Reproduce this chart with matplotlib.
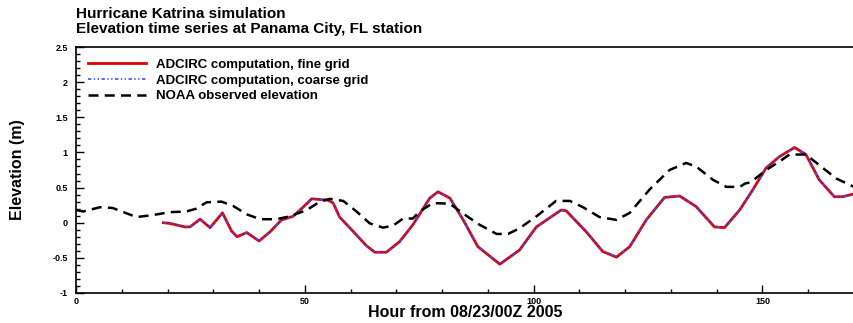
import matplotlib
matplotlib.use("Agg")
import matplotlib.pyplot as plt
from matplotlib.ticker import MultipleLocator

plt.rcParams['font.family'] = ['Liberation Sans', 'DejaVu Sans']
plt.rcParams['font.weight'] = 'bold'

obs_hours = [0, 1.6, 5.2, 8, 13.2, 16.9, 20.5, 24.1, 26.3, 28.5, 31.8, 34.3, 37.3, 40.2,
             43.8, 46.7, 50.4, 53.3, 55.5, 58.4, 61.3, 64.2, 67.1, 69.3, 71.5, 73.6, 75.1,
             78, 81.7, 84.6, 88.2, 91.9, 94.4, 96.9, 100.6, 104.9, 107.9, 110.8, 114.4,
             118.1, 121, 125.3, 129.7, 133.3, 135.5, 139.2, 142.1, 145, 146.3, 147.2,
             148.3, 150.8, 153.7, 155.9, 159.5, 162.4, 166.1, 170]
obs_elev = [0.18, 0.16, 0.22, 0.21, 0.08, 0.11, 0.15, 0.16, 0.2, 0.29, 0.30, 0.24, 0.12, 0.05,
            0.05, 0.09, 0.18, 0.30, 0.34, 0.31, 0.16, -0.01, -0.07, -0.04, 0.06, 0.06, 0.16,
            0.28, 0.27, 0.13, -0.03, -0.16, -0.16, -0.08, 0.09, 0.31, 0.31, 0.22, 0.08,
            0.04, 0.14, 0.47, 0.75, 0.85, 0.80, 0.61, 0.51, 0.51, 0.56, 0.57, 0.62,
            0.75, 0.87, 0.97, 0.97, 0.82, 0.63, 0.51]

fine_hours = [19.1, 20.5, 23.8, 24.9, 27.1, 29.3, 32, 34, 35.2, 37.3, 40, 42.4, 44.9, 47.4,
              49.6, 51.5, 55.1, 56.2, 57.6, 60.5, 63.5, 65.3, 67.8, 70.7, 73.6, 77.3, 79.1,
              81.7, 84.6, 87.8, 92.6, 96.9, 100.6, 106, 107.1, 111.5, 115.1, 118.1, 121,
              124.6, 128.6, 131.9, 135.5, 139.5, 141.7, 145, 147.9, 150.8, 153.7, 157,
              159.5, 162.4, 165.7, 167.5, 170]
fine_elev = [0.0, -0.01, -0.06, -0.06, 0.05, -0.07, 0.14, -0.12, -0.20, -0.14, -0.26, -0.13,
             0.04, 0.09, 0.22, 0.34, 0.32, 0.28, 0.08, -0.12, -0.33, -0.42, -0.42, -0.27,
             -0.03, 0.35, 0.44, 0.35, 0.04, -0.34, -0.59, -0.39, -0.06, 0.18, 0.17, -0.13,
             -0.41, -0.49, -0.34, 0.04, 0.36, 0.38, 0.23, -0.06, -0.07, 0.18, 0.47, 0.78,
             0.94, 1.07, 0.97, 0.61, 0.37, 0.37, 0.41]

coarse_hours = fine_hours
coarse_elev = [0.0, -0.01, -0.06, -0.06, 0.05, -0.07, 0.14, -0.12, -0.20, -0.14, -0.26, -0.13,
               0.04, 0.09, 0.22, 0.34, 0.32, 0.28, 0.08, -0.12, -0.33, -0.42, -0.42, -0.27,
               -0.03, 0.35, 0.44, 0.35, 0.04, -0.34, -0.58, -0.39, -0.06, 0.18, 0.17, -0.13,
               -0.41, -0.48, -0.34, 0.04, 0.36, 0.38, 0.23, -0.06, -0.07, 0.18, 0.47, 0.78,
               0.94, 1.06, 0.97, 0.61, 0.37, 0.37, 0.41]

W, H = 854, 323
fig = plt.figure(figsize=(W / 100, H / 100), dpi=100)
ax = fig.add_axes([76 / W, 1 - 293 / H, (W - 76) / W, (293 - 47) / H])

ax.plot(fine_hours, fine_elev, color='#e00000', lw=2.0, label='ADCIRC computation, fine grid')
ax.plot(coarse_hours, coarse_elev, color='#3a4cff', lw=1.2, dashes=[2, 1.5, 0.8, 1.5, 0.8, 1.5],
        label='ADCIRC computation, coarse grid')
ax.plot(obs_hours, obs_elev, color='black', lw=1.8, dashes=[4, 2.5],
        label='NOAA observed elevation')

ax.set_xlim(0, 170)
ax.set_ylim(-1, 2.5)
ax.xaxis.set_major_locator(MultipleLocator(50))
ax.xaxis.set_minor_locator(MultipleLocator(10))
ax.yaxis.set_major_locator(MultipleLocator(0.5))
ax.yaxis.set_minor_locator(MultipleLocator(0.1))
ax.tick_params(which='both', direction='in', labelsize=6.5, width=1)
ax.tick_params(which='major', length=6)
ax.tick_params(which='minor', length=3)
ax.tick_params(axis='x', pad=3)
ax.tick_params(axis='y', pad=6)
ax.set_yticks([-1, -0.5, 0, 0.5, 1, 1.5, 2, 2.5])
ax.set_yticklabels(['-1', '-0.5', '0', '0.5', '1', '1.5', '2', '2.5'])
ax.set_xticks([0, 50, 100, 150])
ax.set_xticklabels(['0', '50', '100', '150'])
ax.spines['right'].set_visible(False)
for s in ['left', 'bottom', 'top']:
    ax.spines[s].set_linewidth(1.2)

ax.set_xlabel('Hour from 08/23/00Z 2005', fontsize=11.5, fontweight='bold', labelpad=-1)
ax.set_ylabel('Elevation (m)', fontsize=11.5, fontweight='bold', labelpad=20)

fig.text(76 / W, 1 - 7 / H, 'Hurricane Katrina simulation', fontsize=11,
         fontweight='bold', va='top', ha='left')
fig.text(76 / W, 1 - 22 / H, 'Elevation time series at Panama City, FL station', fontsize=11,
         fontweight='bold', va='top', ha='left')

leg = ax.legend(loc='upper left', bbox_to_anchor=(0.0, 1.0), frameon=False,
                prop={'size': 9.5, 'weight': 'bold'}, handlelength=4.4, handletextpad=0.75,
                labelspacing=0.25, borderaxespad=0.5, borderpad=0.4)

fig.savefig('out.png', dpi=100)
